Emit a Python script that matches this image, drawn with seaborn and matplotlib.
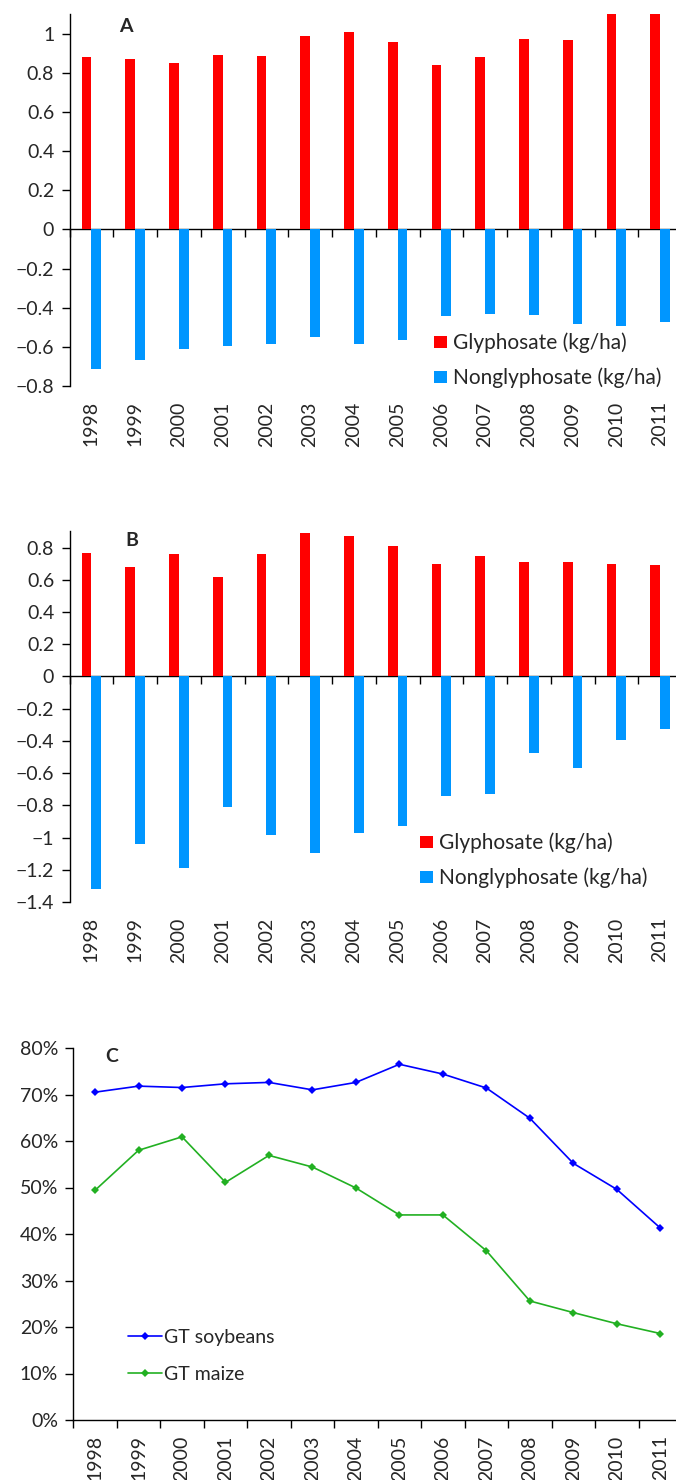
import numpy as np
import pandas as pd
import matplotlib
matplotlib.use("Agg")
import matplotlib.pyplot as plt
import seaborn as sns
from matplotlib.ticker import FuncFormatter, PercentFormatter, FixedLocator

years = [str(y) for y in range(1998, 2012)]

# Panel A (kg/ha)
glyph_a = [0.878, 0.869, 0.850, 0.893, 0.884, 0.990, 1.009, 0.956, 0.837, 0.879, 0.973, 0.968, 1.10, 1.10]
nongly_a = [-0.712, -0.666, -0.612, -0.595, -0.584, -0.550, -0.588, -0.564, -0.445, -0.431, -0.436, -0.481, -0.493, -0.474]

# Panel B (kg/ha)
glyph_b = [0.769, 0.682, 0.759, 0.620, 0.763, 0.893, 0.873, 0.808, 0.698, 0.750, 0.711, 0.713, 0.696, 0.692]
nongly_b = [-1.318, -1.037, -1.192, -0.812, -0.984, -1.095, -0.973, -0.926, -0.740, -0.732, -0.478, -0.567, -0.396, -0.326]

# Panel C (share)
gt_soy = [0.705, 0.718, 0.715, 0.723, 0.726, 0.710, 0.726, 0.765, 0.744, 0.714, 0.649, 0.552, 0.496, 0.413]
gt_maize = [0.494, 0.580, 0.609, 0.511, 0.569, 0.544, 0.499, 0.441, 0.441, 0.364, 0.256, 0.231, 0.207, 0.186]

series_names = ["Glyphosate (kg/ha)", "Nonglyphosate (kg/ha)"]
line_names = ["GT soybeans", "GT maize"]
bar_colors = ["#FF0000", "#0096FF"]
line_colors = ["#0000FF", "#22B022"]

sns.set_theme(style="white")
plt.rcParams["font.family"] = ["Lato", "DejaVu Sans"]
plt.rcParams["axes.unicode_minus"] = True

W, H = 676, 1480
fig = plt.figure(figsize=(W / 100, H / 100), dpi=100)


def frac_rect(left, top, right, bottom):
    return [left / W, 1 - bottom / H, (right - left) / W, (bottom - top) / H]


def num_fmt(v, pos):
    s = f"{v:.1f}".rstrip("0").rstrip(".")
    if s in ("-0", "0"):
        return "0"
    return s.replace("-", "\u2212")


TICK_FS = 14
YEAR_FS = 14
LEG_FS = 15
LEG_FS_C = 14
LETTER_FS = 14


def bar_panel(rect, glyph, nongly, ylim, yticks, letter, letter_xy, leg_anchor):
    ax = fig.add_axes(rect)
    df = pd.DataFrame({
        "year": years * 2,
        "value": list(glyph) + list(nongly),
        "series": [series_names[0]] * len(years) + [series_names[1]] * len(years),
    })
    sns.barplot(data=df, x="year", y="value", hue="series", palette=bar_colors,
                width=0.45, gap=0, errorbar=None, linewidth=0, ax=ax, saturation=1)
    ax.set_ylim(*ylim)
    ax.set_xlim(-0.5, len(years) - 0.5)
    ax.set_yticks(yticks)
    ax.yaxis.set_major_formatter(FuncFormatter(num_fmt))
    ax.set_xlabel("")
    ax.set_ylabel("")
    for s in ["top", "right", "bottom"]:
        ax.spines[s].set_visible(False)
    ax.spines["left"].set_color("#000000")
    ax.spines["left"].set_linewidth(1.0)
    ax.tick_params(axis="y", which="major", direction="out", length=6, width=1,
                   color="#000000", labelsize=TICK_FS, pad=5, left=True)
    ax.tick_params(axis="x", which="major", length=0, labelsize=YEAR_FS, pad=11,
                   labelrotation=90, bottom=True)
    # zero line with category-boundary ticks
    zero_frac = (0 - ylim[0]) / (ylim[1] - ylim[0])
    sec = ax.secondary_xaxis(zero_frac)
    sec.set_alignment("bottom")
    sec.set_xticks(np.arange(len(years) + 1) - 0.5)
    sec.tick_params(axis="x", direction="out", length=6, width=1, color="#000000",
                    labelbottom=False, labeltop=False)
    sec.spines["bottom"].set_color("#000000")
    sec.spines["bottom"].set_linewidth(1.0)
    ax.text(letter_xy[0], letter_xy[1], letter, transform=ax.transAxes,
            fontsize=LETTER_FS, fontweight="bold", ha="center", va="center")
    ax.legend(loc="center left", bbox_to_anchor=leg_anchor, frameon=False,
              fontsize=LEG_FS, handlelength=0.62, handleheight=0.55,
              handletextpad=0.3, labelspacing=0.7, borderpad=0,
              borderaxespad=0)
    return ax


# Panel A
axA = bar_panel(frac_rect(69.5, 14, 682, 386), glyph_a, nongly_a, (-0.8, 1.1),
                np.round(np.arange(-0.8, 1.01, 0.2), 1), "A",
                ((126 - 69.5) / 612.5, (386 - 27) / 372), (0.595, 0.0686))

# Panel B
axB = bar_panel(frac_rect(69.5, 531.5, 682, 902), glyph_b, nongly_b, (-1.4, 0.9),
                np.round(np.arange(-1.4, 0.81, 0.2), 1), "B",
                ((132 - 69.5) / 612.5, (902 - 541) / 370.5), (0.572, 0.112))

# Panel C
axC = fig.add_axes(frac_rect(73.3, 1048, 682, 1420))
dfc = pd.DataFrame({
    "year": years * 2,
    "share": list(gt_soy) + list(gt_maize),
    "crop": [line_names[0]] * len(years) + [line_names[1]] * len(years),
})
sns.lineplot(data=dfc, x="year", y="share", hue="crop", palette=line_colors,
             marker="D", markersize=4.5, markeredgewidth=0, linewidth=1.2,
             sort=False, ax=axC)
axC.set_ylim(0, 0.8)
axC.set_xlim(-0.5, len(years) - 0.5)
axC.set_yticks(np.round(np.arange(0, 0.81, 0.1), 1))
axC.yaxis.set_major_formatter(PercentFormatter(1.0, decimals=0))
axC.set_xlabel("")
axC.set_ylabel("")
for s in ["top", "right"]:
    axC.spines[s].set_visible(False)
for s in ["left", "bottom"]:
    axC.spines[s].set_color("#000000")
    axC.spines[s].set_linewidth(1.0)
axC.xaxis.set_major_locator(FixedLocator(np.arange(len(years) + 1) - 0.5))
axC.set_xticklabels([""] * (len(years) + 1))
axC.set_xticks(np.arange(len(years)), labels=years, minor=True)
axC.tick_params(axis="x", which="major", direction="out", length=6, width=1,
                color="#000000", bottom=True)
axC.tick_params(axis="x", which="minor", length=0, labelsize=YEAR_FS, pad=11,
                labelrotation=90, bottom=True)
axC.tick_params(axis="y", which="major", direction="out", length=6, width=1,
                color="#000000", labelsize=TICK_FS, pad=5, left=True)
axC.text((112 - 73.3) / 608.7, (1420 - 1057) / 372, "C", transform=axC.transAxes,
         fontsize=LETTER_FS, fontweight="bold", ha="center", va="center")
axC.legend(loc="center left", bbox_to_anchor=(0.0899, 0.173), frameon=False,
           fontsize=LEG_FS_C, handlelength=1.75, handletextpad=0.1, labelspacing=1.04,
           borderpad=0, borderaxespad=0)

fig.savefig("out.png", dpi=100)
